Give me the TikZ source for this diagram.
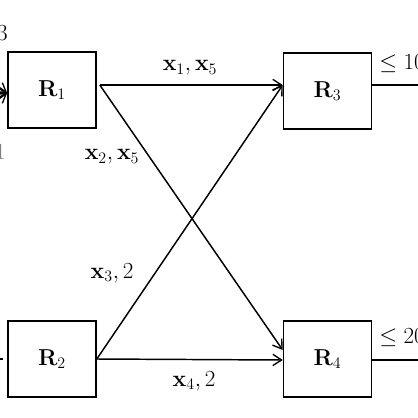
\documentclass[tikz,border=0pt]{standalone}
\usetikzlibrary{calc,arrows.meta}
\begin{document}
\begin{tikzpicture}[x=0.75pt,y=-0.75pt,
  box/.style={draw,line width=1.2pt,minimum width=66pt,minimum height=57pt,inner sep=0pt,font=\fontsize{17}{20}\selectfont},
  lbl/.style={font=\fontsize{17}{20}\selectfont,inner sep=0pt},
  conn/.style={line width=1.1pt,-{Straight Barb[length=6.5pt,width=8.5pt,line width=1pt]}},
  plain/.style={line width=1.1pt}]
\useasboundingbox (0,0) rectangle (418,418);
\clip (0,0) rectangle (418,418);
\node[box] (R1) at (52,90) {$\mathbf{R}_1$};
\node[box] (R2) at (52,359) {$\mathbf{R}_2$};
\node[box] (R3) at (327.5,91) {$\mathbf{R}_3$};
\node[box] (R4) at (327.5,359) {$\mathbf{R}_4$};
\coordinate (s1) at ($(R1.east)+(3,-5)$);
\coordinate (s2) at ($(R2.east)+(0,0)$);
\coordinate (t3) at ($(R3.west)+(0,-6)$);
\coordinate (t4a) at ($(R4.west)+(0,-9)$);
\coordinate (t4b) at ($(R4.west)+(0,1)$);
\draw[conn] (s1) -- (t3);
\draw[conn] (s1) -- (t4a);
\draw[conn] (s2) -- (t3);
\draw[conn] (s2) -- (t4b);
\node[lbl] (l1) at (190,68) {$\mathbf{x}_1, \mathbf{x}_5$};
\node[lbl] (l2) at (112,157) {$\mathbf{x}_2, \mathbf{x}_5$};
\node[lbl] (l3) at (112,273) {$\mathbf{x}_3, 2$};
\node[lbl] (l4) at (194,381) {$\mathbf{x}_4, 2$};
% outputs
\coordinate (o3) at (430,85);
\coordinate (o4) at (430,360);
\draw[plain] (R3.east |- o3) -- (o3);
\draw[plain] (R4.east |- o4) -- (o4);
\node[lbl,anchor=west] (c3) at (379,64) {$\leq 10$};
\node[lbl,anchor=west] (c4) at (379,338) {$\leq 20$};
% inputs at the left (cut off)
\coordinate (i1) at ($(R1.west)+(0,3)$);
\coordinate (ia) at (-40,60);
\coordinate (ib) at (-40,93);
\coordinate (ic) at (-40,126);
\draw[conn] (ia) -- (i1);
\draw[conn] (ib) -- (i1);
\draw[conn] (ic) -- (i1);
\coordinate (j0) at (-10,359);
\coordinate (j1) at (3,359);
\draw[plain] (j0) -- (j1);
\node[lbl,anchor=east] (k3) at (8,33) {$3$};
\node[lbl,anchor=east,text=gray] (k1) at (6,152) {$1$};
\end{tikzpicture}
\end{document}
